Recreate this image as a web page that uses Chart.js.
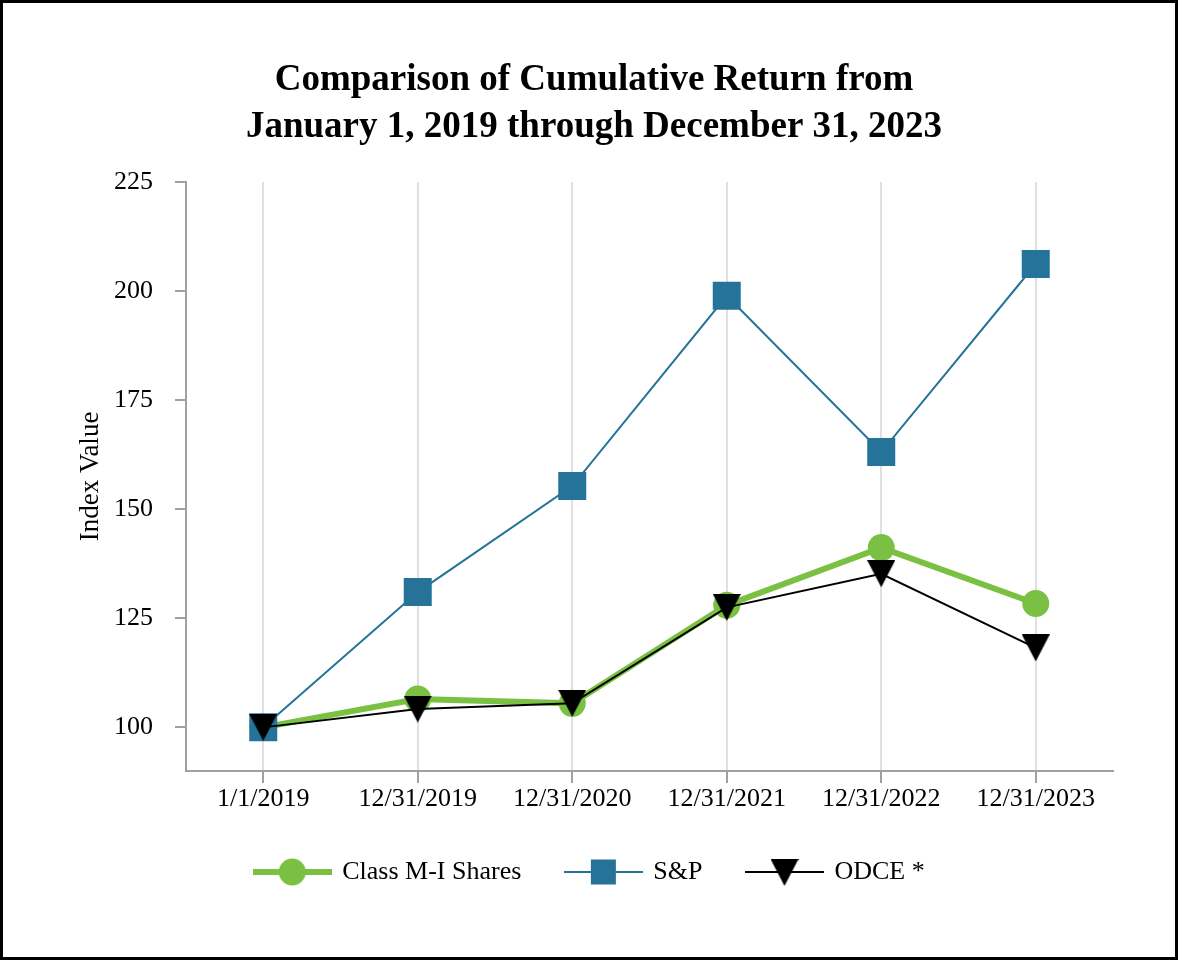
<!DOCTYPE html>
<html>
<head>
<meta charset="utf-8">
<script src="https://cdn.jsdelivr.net/npm/chart.js@4.4.1/dist/chart.umd.min.js"></script>
<style>
  html, body { margin: 0; padding: 0; background: #fff; }
  .frame { width: 1178px; height: 960px; box-sizing: border-box; border: 3px solid #000; background: #fff; }
  canvas { display: block; }
</style>
</head>
<body>
<div class="frame">
  <canvas id="chart" width="1172" height="954"></canvas>
</div>
<script>
const labels = ['1/1/2019', '12/31/2019', '12/31/2020', '12/31/2021', '12/31/2022', '12/31/2023'];
const classMI = [100, 106.5, 105.5, 128.0, 141.2, 128.4];
const sp = [100, 131.0, 155.3, 198.9, 163.1, 206.2];
const odce = [100, 104.2, 105.5, 127.5, 135.2, 118.2];
const yTicks = [100, 125, 150, 175, 200, 225];

const GREEN = '#7ac143';
const BLUE = '#257398';
const BLACK = '#000000';
const FONT = '"Liberation Serif", "Times New Roman", serif';

// down pointing triangle as image so it sits centred on the point
const makeTriangle = function () {
  const c = document.createElement('canvas');
  c.width = 28; c.height = 27;
  const ctx = c.getContext('2d');
  ctx.fillStyle = BLACK;
  ctx.beginPath();
  ctx.moveTo(0, 0);
  ctx.lineTo(28, 0);
  ctx.lineTo(14, 27);
  ctx.closePath();
  ctx.fill();
  return c;
};
const triangle = makeTriangle();

// legend icon: line with the marker in the middle
const makeIcon = function (color, lineW, kind) {
  const c = document.createElement('canvas');
  c.width = 79; c.height = 30;
  const ctx = c.getContext('2d');
  ctx.strokeStyle = color;
  ctx.lineWidth = lineW;
  ctx.beginPath();
  ctx.moveTo(0, 15);
  ctx.lineTo(79, 15);
  ctx.stroke();
  ctx.fillStyle = color;
  if (kind == 'circle') {
    ctx.beginPath();
    ctx.arc(39.5, 15, 13.5, 0, Math.PI * 2);
    ctx.fill();
  } else if (kind == 'rect') {
    ctx.fillRect(27, 2.5, 25, 25);
  } else {
    ctx.drawImage(triangle, 25.5, 2);
  }
  return c;
};
const icons = [makeIcon(GREEN, 6, 'circle'), makeIcon(BLUE, 2, 'rect'), makeIcon(BLACK, 2, 'tri')];

// nudge the legend row a little to the left
const shiftLegend = {
  id: 'shiftLegend',
  afterLayout: function (chart) {
    chart.legend.left -= 4;
    chart.legend.right -= 4;
  }
};

const data = {
  labels: labels,
  datasets: [
    {
      label: 'Class M-I Shares',
      data: classMI,
      borderColor: GREEN,
      backgroundColor: GREEN,
      borderWidth: 6,
      pointStyle: 'circle',
      pointRadius: 13.5,
      pointBorderWidth: 0,
      order: 3
    },
    {
      label: 'S&P',
      data: sp,
      borderColor: BLUE,
      backgroundColor: BLUE,
      borderWidth: 2,
      pointStyle: 'rect',
      pointRadius: 19.8,
      pointBorderWidth: 0,
      order: 2
    },
    {
      label: 'ODCE *',
      data: odce,
      borderColor: BLACK,
      backgroundColor: BLACK,
      borderWidth: 2,
      pointStyle: triangle,
      pointRadius: 14,
      pointBorderWidth: 0,
      order: 1
    }
  ]
};

const config = {
  type: 'line',
  data: data,
  plugins: [shiftLegend],
  options: {
    responsive: false,
    animation: false,
    layout: { padding: { top: 23, left: 72, right: 62, bottom: 62 } },
    plugins: {
      title: {
        display: true,
        text: ['Comparison of Cumulative Return from', 'January 1, 2019 through December 31, 2023'],
        color: '#000',
        font: { family: FONT, size: 37, weight: 'bold', lineHeight: 1.27 },
        padding: { top: 31, bottom: 31 }
      },
      legend: {
        position: 'bottom',
        labels: {
          usePointStyle: true,
          pointStyleWidth: 74,
          padding: 45,
          color: '#000',
          font: { family: FONT, size: 26 },
          generateLabels: function (chart) {
            const items = Chart.defaults.plugins.legend.labels.generateLabels(chart);
            items.sort(function (a, b) { return a.datasetIndex - b.datasetIndex; });
            items.forEach(function (it) { it.pointStyle = icons[it.datasetIndex]; });
            return items;
          }
        }
      },
      tooltip: { enabled: false }
    },
    scales: {
      x: {
        offset: true,
        grid: { offset: false, color: '#e0e0e0', lineWidth: 2, tickColor: '#a0a0a0', tickLength: 12 },
        border: { color: '#a0a0a0', width: 2 },
        ticks: { color: '#000', font: { family: FONT, size: 26 }, padding: 1, maxRotation: 0 },
        afterFit: function (scale) { scale.height = 43; }
      },
      y: {
        min: 90,
        max: 225,
        afterBuildTicks: function (scale) {
          scale.ticks = yTicks.map(function (v) { return { value: v }; });
        },
        grid: { drawOnChartArea: false, color: '#a0a0a0', lineWidth: 2, tickLength: 11 },
        border: { color: '#a0a0a0', width: 2 },
        ticks: { color: '#000', font: { family: FONT, size: 26 }, padding: 22 },
        title: {
          display: true,
          text: 'Index Value',
          color: '#000',
          font: { family: FONT, size: 27 },
          padding: 0
        },
        afterFit: function (scale) { scale.width = 111; }
      }
    }
  }
};

const myChart = new Chart(document.getElementById('chart'), config);
</script>
</body>
</html>
